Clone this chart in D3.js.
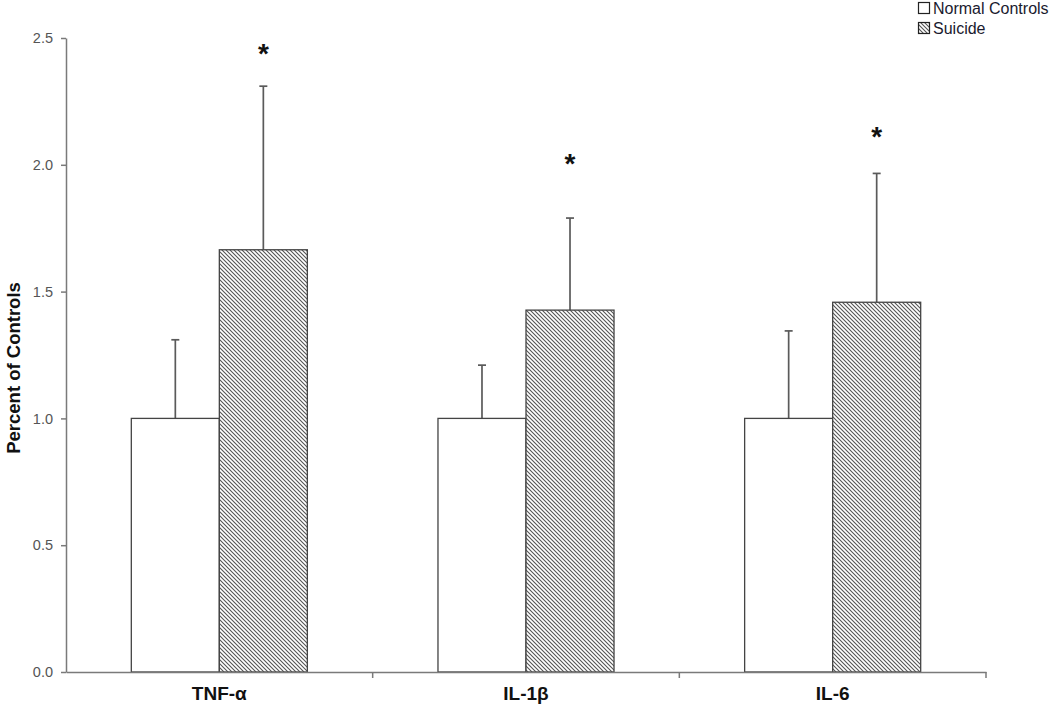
<!DOCTYPE html>
<html><head><meta charset="utf-8">
<script src="https://cdn.jsdelivr.net/npm/d3@7"></script>
<style>body{margin:0;background:#fff}svg{display:block}</style>
</head><body>
<svg id="c" width="1050" height="717"></svg>
<script>
const categories = ["TNF-α", "IL-1β", "IL-6"];
const seriesNames = ["Normal Controls", "Suicide"];
const controlMeans = [1.0, 1.0, 1.0];
const controlErr = [0.31, 0.21, 0.345];
const suicideMeans = [1.665, 1.427, 1.458];
const suicideErr = [0.645, 0.363, 0.508];
const significant = [true, true, true];
const asteriskLevel = [2.453, 2.019, 2.125];
const yTicks = [0, 0.5, 1.0, 1.5, 2.0, 2.5];

const svg = d3.select("#c");
const m = {left: 66, right: 986, top: 38, bottom: 672};
const font = "Liberation Sans, Arial, sans-serif";

const defs = svg.append("defs");
const pat = defs.append("pattern").attr("id","hatch").attr("patternUnits","userSpaceOnUse")
  .attr("width",4).attr("height",4);
pat.append("rect").attr("width",4).attr("height",4).attr("fill","#fff");
pat.append("path").attr("d","M0,0L4,4M-1,3L1,5M3,-1L5,1").attr("stroke","#555").attr("stroke-width",1.1);

const y = d3.scaleLinear().domain([0,2.5]).range([m.bottom, m.top]);
const x0 = d3.scaleBand().domain(categories).range([m.left, m.right]).paddingInner(0).paddingOuter(0);
const x1 = d3.scaleBand().domain(seriesNames).range([0, x0.bandwidth()]).paddingInner(0).paddingOuter(0.742);

const data = categories.map((c,i)=>[
  {cat:c, s:seriesNames[0], v:controlMeans[i], e:controlErr[i], sig:false},
  {cat:c, s:seriesNames[1], v:suicideMeans[i], e:suicideErr[i], sig:significant[i], a:asteriskLevel[i]}
]).flat();

const axisColor = "#7a7a7a";

const g = svg.append("g");
data.forEach(d=>{
  const bx = x0(d.cat) + x1(d.s);
  const cx = bx + x1.bandwidth()/2;
  g.append("line").attr("x1",cx).attr("x2",cx).attr("y1",y(d.v)).attr("y2",y(d.v+d.e))
    .attr("stroke","#5a5a5a").attr("stroke-width",1.7);
  g.append("line").attr("x1",cx-4).attr("x2",cx+4).attr("y1",y(d.v+d.e)).attr("y2",y(d.v+d.e))
    .attr("stroke","#5a5a5a").attr("stroke-width",1.7);
  g.append("rect").attr("x",bx).attr("y",y(d.v)).attr("width",x1.bandwidth()).attr("height",y(0)-y(d.v))
    .attr("fill", d.s===seriesNames[0] ? "#fff" : "url(#hatch)")
    .attr("stroke","#444").attr("stroke-width",1.3);
  if (d.sig) {
    g.append("text").attr("x",cx).attr("y",y(d.a)+13).attr("text-anchor","middle")
      .attr("font-family",font).attr("font-weight","bold")
      .attr("font-size",28).attr("fill","#111").text("*");
  }
});

// y axis
const yAxis = svg.append("g").attr("transform",`translate(${m.left},0)`)
  .call(d3.axisLeft(y).tickValues(yTicks).tickFormat(d3.format(".1f")).tickSize(5).tickSizeOuter(0));
yAxis.select(".domain").attr("stroke",axisColor).attr("stroke-width",1.5);
yAxis.selectAll(".tick line").attr("stroke",axisColor).attr("stroke-width",1.5);
yAxis.selectAll(".tick text").attr("font-family",font).attr("font-size",14.5)
  .attr("fill","#555").attr("x",-13);

// x axis
const xAxis = svg.append("g").attr("transform",`translate(0,${m.bottom})`)
  .call(d3.axisBottom(x0).tickSize(0).tickSizeOuter(0));
xAxis.select(".domain").attr("stroke",axisColor).attr("stroke-width",1.5);
xAxis.selectAll(".tick text").attr("font-family",font).attr("font-size",19)
  .attr("font-weight","bold").attr("fill","#111").attr("dy","1.3em");
categories.forEach(c=>{
  const sx = x0(c)+x0.bandwidth();
  xAxis.append("line").attr("x1",sx).attr("x2",sx).attr("y1",0).attr("y2",6)
    .attr("stroke",axisColor).attr("stroke-width",1.5);
});

// y label
svg.append("text").attr("transform","translate(20,368) rotate(-90)").attr("text-anchor","middle")
  .attr("font-family",font).attr("font-weight","bold").attr("font-size",18.5)
  .attr("fill","#111").text("Percent of Controls");

// legend
const lg = svg.append("g").attr("transform","translate(918,0)");
seriesNames.forEach((s,i)=>{
  lg.append("rect").attr("x",0.5).attr("y",i*20+2.5).attr("width",11).attr("height",11)
    .attr("fill", i===0 ? "#fff" : "url(#hatch)").attr("stroke","#222").attr("stroke-width",1.2);
  lg.append("text").attr("x",15).attr("y",i*20+14)
    .attr("font-family",font).attr("font-size",16).attr("fill","#1a1a2e").text(s);
});
</script>
</body></html>
